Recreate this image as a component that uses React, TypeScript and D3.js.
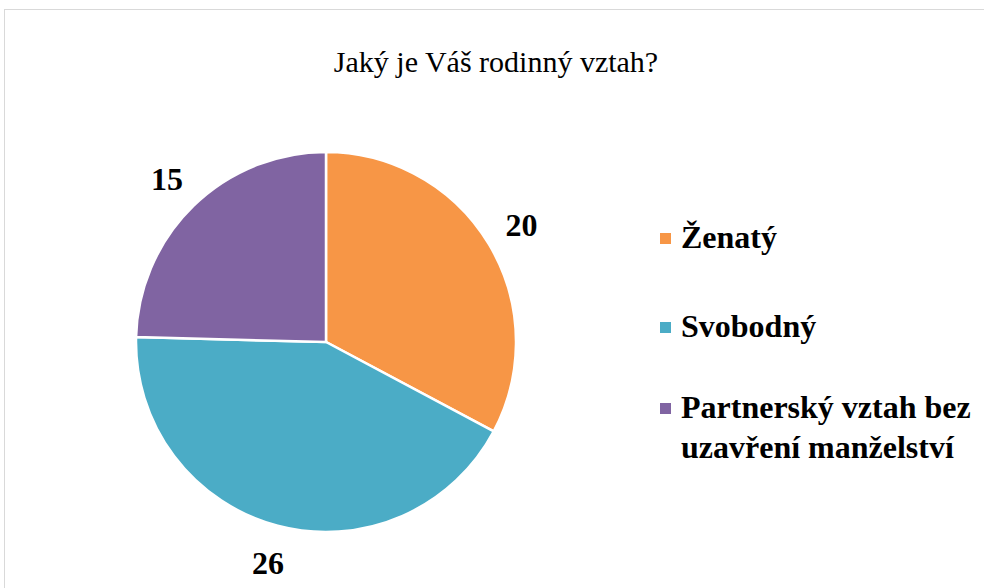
import React from "react";
import * as d3 from "d3";

const categories = ["Ženatý", "Svobodný", "Partnerský vztah bez uzavření manželství"];
const legendLines = [["Ženatý"], ["Svobodný"], ["Partnerský vztah bez", "uzavření manželství"]];
const values = [20, 26, 15];
const colors = ["#F79646", "#4BACC6", "#8064A2"];
const title = "Jaký je Váš rodinný vztah?";

export default function App() {
  const W = 984, H = 588;
  const cx = 326, cy = 342, r = 190;
  const pie = d3.pie<number>().sort(null).value((d) => d)(values);
  const arc = d3.arc<d3.PieArcDatum<number>>().innerRadius(0).outerRadius(r);
  const labelR = 228;
  const legendY = [248, 337, 418];
  const font = "'Liberation Serif', 'Times New Roman', serif";
  return (
    <svg width={W} height={H} style={{ position: "absolute", left: 0, top: 0 }}>
      <rect x={0} y={0} width={W} height={H} fill="#fff" />
      <rect x={4.5} y={9.5} width={990} height={600} fill="#fff" stroke="#d9d9d9" strokeWidth={1} />
      <text x={496} y={72} textAnchor="middle" fontFamily={font} fontSize={30} fill="#000">{title}</text>
      <g transform={`translate(${cx},${cy})`}>
        {pie.map((p, i) => (
          <path key={i} d={arc(p) || ""} fill={colors[i]} stroke="#fff" strokeWidth={2.5} />
        ))}
        {pie.map((p, i) => {
          const a = (p.startAngle + p.endAngle) / 2;
          return (
            <text key={"l" + i} x={labelR * Math.sin(a)} y={-labelR * Math.cos(a)} dy="0.35em"
              textAnchor="middle" fontFamily={font} fontWeight="bold" fontSize={32} fill="#000">
              {values[i]}
            </text>
          );
        })}
      </g>
      {categories.map((c, i) => (
        <g key={c}>
          <rect x={660} y={legendY[i] - 15} width={11} height={11} fill={colors[i]} />
          {legendLines[i].map((ln, j) => (
            <text key={j} x={681} y={legendY[i] + j * 40} fontFamily={font} fontWeight="bold" fontSize={32} fill="#000">{ln}</text>
          ))}
        </g>
      ))}
    </svg>
  );
}
